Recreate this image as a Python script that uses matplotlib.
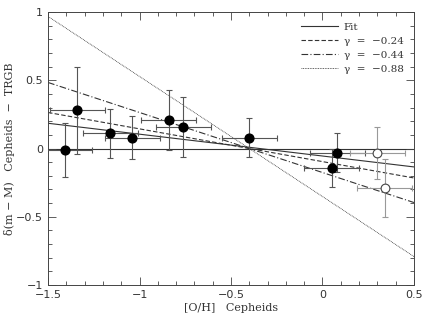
import numpy as np
import matplotlib
matplotlib.use("Agg")
import matplotlib.pyplot as plt
from matplotlib.ticker import MultipleLocator, FuncFormatter

# Filled points (Cepheid hosts)
oh_filled = [-1.41, -1.34, -1.16, -1.04, -0.84, -0.76, -0.40, 0.08, 0.05]
dmu_filled = [-0.01, 0.28, 0.11, 0.08, 0.21, 0.16, 0.08, -0.03, -0.14]
yerr_filled = [0.20, 0.32, 0.18, 0.16, 0.22, 0.22, 0.14, 0.14, 0.14]
xerr_filled = [0.15, 0.15, 0.15, 0.15, 0.15, 0.15, 0.15, 0.15, 0.15]

# Open points
oh_open = [0.30, 0.34]
dmu_open = [-0.03, -0.29]
yerr_open = [0.19, 0.21]
xerr_open = [0.15, 0.15]

# Lines
fit_slope = -0.16
fit_intercept = -0.055
gammas = [-0.24, -0.44, -0.88]
pivot = -0.40
gamma_styles = [(0, (4, 2)), (0, (6, 2, 1, 2)), (0, (1, 1))]
gamma_labels = ["γ  =  −0.24", "γ  =  −0.44", "γ  =  −0.88"]

fig = plt.figure(figsize=(4.33, 3.18), dpi=100)
ax = fig.add_axes([0.111, 0.104, 0.845, 0.858])

xx = np.array([-1.5, 0.5])
ax.axhline(0, color="#333333", lw=0.8, zorder=1)
ax.plot(xx, fit_intercept + fit_slope * xx, color="#333333", lw=0.8, label="Fit")
for g, ls, lab in zip(gammas, gamma_styles, gamma_labels):
    lw = 0.6 if g == -0.88 else 0.8
    ax.plot(xx, g * (xx - pivot), color="#333333", lw=lw, linestyle=ls, label=lab)

ax.errorbar(oh_filled, dmu_filled, yerr=yerr_filled, xerr=xerr_filled, fmt="o",
            color="black", ms=6.3, ecolor="#555555", elinewidth=0.8, capsize=2,
            capthick=0.8, zorder=3)
ax.errorbar(oh_open, dmu_open, yerr=yerr_open, xerr=xerr_open, fmt="o",
            mfc="white", mec="#444444", mew=0.8, ms=6.3, ecolor="#999999",
            elinewidth=0.8, capsize=2, capthick=0.8, zorder=3)

ax.set_xlim(-1.5, 0.5)
ax.set_ylim(-1, 1)
ax.xaxis.set_major_locator(MultipleLocator(0.5))
ax.xaxis.set_minor_locator(MultipleLocator(0.1))
ax.yaxis.set_major_locator(MultipleLocator(0.5))
ax.yaxis.set_minor_locator(MultipleLocator(0.1))
ax.tick_params(which="both", direction="in", top=True, right=True, color="#444444",
               labelsize=8, labelcolor="#333333")
ax.tick_params(which="major", length=6, width=0.6)
ax.tick_params(which="minor", length=3, width=0.6)
for s in ax.spines.values():
    s.set_linewidth(0.7)
    s.set_color("#444444")

fmt = FuncFormatter(lambda v, p: ("%g" % v).replace("-", "−"))
ax.xaxis.set_major_formatter(fmt)
ax.yaxis.set_major_formatter(fmt)

ax.set_xlabel("[O/H]   Cepheids", family="DejaVu Serif", fontsize=8, color="#333333",
              labelpad=2)
ax.set_ylabel("δ(m − M)   Cepheids  −  TRGB", family="DejaVu Serif", fontsize=8,
              color="#333333", labelpad=1)

leg = ax.legend(loc="upper right", frameon=False, handlelength=3.6, handletextpad=0.5,
                labelspacing=0.45, prop={"family": "DejaVu Serif", "size": 7.5},
                borderaxespad=0.6)
for t in leg.get_texts():
    t.set_color("#333333")

fig.savefig("out.png", dpi=100)
